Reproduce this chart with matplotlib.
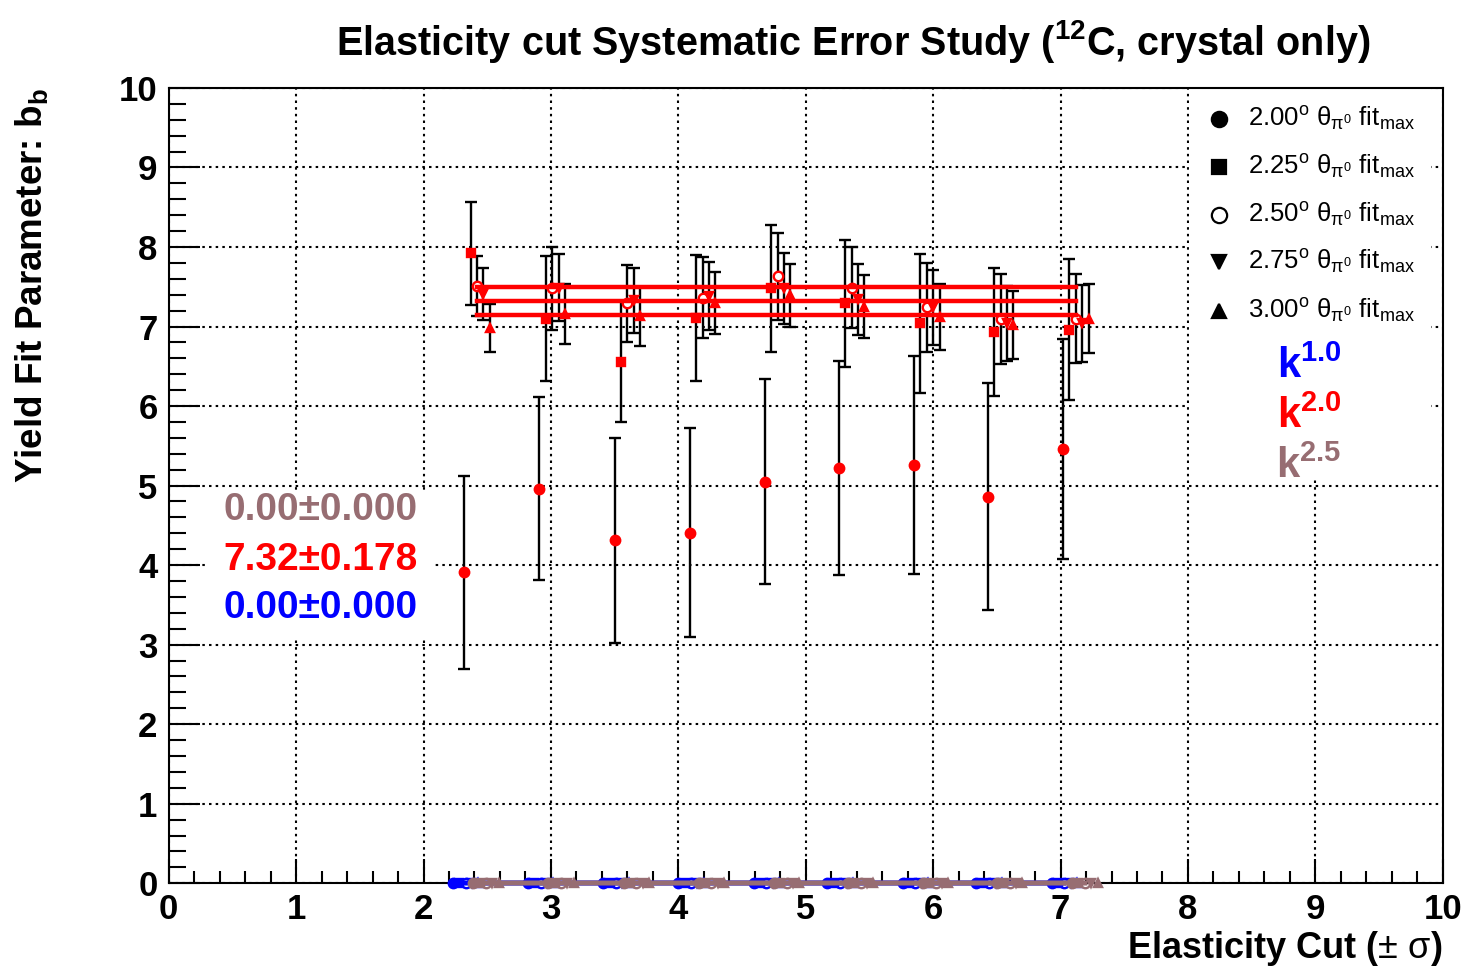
#!/usr/bin/env python3
import matplotlib

matplotlib.use("Agg")
import matplotlib.pyplot as plt  # noqa: E402
from matplotlib.lines import Line2D  # noqa: E402
from matplotlib.patches import Rectangle  # noqa: E402

# elasticity cut values (x) and fitted b_b for each theta_pi0 fit max
cuts = [2.32, 2.91, 3.50, 4.09, 4.68, 5.26, 5.85, 6.43, 7.02]
theta_labels = ["2.00", "2.25", "2.50", "2.75", "3.00"]

b_200 = [3.91, 4.96, 4.31, 4.41, 5.05, 5.22, 5.26, 4.86, 5.46]
e_200 = [1.21, 1.15, 1.29, 1.32, 1.29, 1.35, 1.37, 1.43, 1.38]
b_225 = [7.92, 7.10, 6.56, 7.11, 7.48, 7.29, 7.04, 6.93, 6.96]
e_225 = [0.645, 0.79, 0.76, 0.79, 0.80, 0.80, 0.87, 0.80, 0.885]
b_250 = [7.51, 7.48, 7.29, 7.36, 7.63, 7.49, 7.24, 7.09, 7.10]
e_250 = [0.375, 0.52, 0.48, 0.51, 0.545, 0.515, 0.555, 0.565, 0.565]
b_275 = [7.41, 7.49, 7.33, 7.38, 7.48, 7.34, 7.24, 7.04, 7.04]
e_275 = [0.33, 0.42, 0.41, 0.43, 0.45, 0.445, 0.47, 0.47, 0.485]
b_300 = [6.98, 7.16, 7.13, 7.30, 7.39, 7.25, 7.12, 7.02, 7.10]
e_300 = [0.30, 0.38, 0.37, 0.39, 0.40, 0.40, 0.42, 0.43, 0.43]

# k^1.0 and k^2.5 fits came out empty (all zero)
b_k10 = [0.0] * len(cuts)
b_k25 = [0.0] * len(cuts)

fit_k10 = (0.00, 0.000)
fit_k20 = (7.32, 0.178)
fit_k25 = (0.00, 0.000)

BLUE = "#0000ff"
RED = "#ff0000"
BROWN = "#976d72"
MARKERS = ["o", "s", "o", "v", "^"]
HOLLOW = [False, False, True, False, False]
OFFSETS = [0.0, 0.05, 0.10, 0.15, 0.20]

plt.rcParams["font.family"] = ["Liberation Sans", "DejaVu Sans"]
plt.rcParams["mathtext.fontset"] = "custom"
plt.rcParams["mathtext.rm"] = "Liberation Sans"
plt.rcParams["mathtext.it"] = "Liberation Sans:italic"
plt.rcParams["mathtext.bf"] = "Liberation Sans:bold"

fig = plt.figure(figsize=(14.67, 9.67), dpi=100)
ax = fig.add_axes([0.115, 0.0866, 0.8685, 0.8225])


def draw_series(values, errors, color, shift, with_err, zo, hollow_face):
    for i, (vals, errs) in enumerate(zip(values, errors)):
        x = [c + OFFSETS[i] + shift for c in cuts]
        ax.errorbar(
            x, vals, yerr=errs if with_err else None,
            fmt=MARKERS[i], color=color, ecolor="black",
            elinewidth=1.7, capsize=4.5, capthick=1.7,
            ms=6.8 if MARKERS[i] == "o" else 6.3,
            mfc=hollow_face if HOLLOW[i] else color, mec=color, mew=1.7,
            zorder=zo, clip_on=False,
        )


def draw_fit(fit, color, shift, zo):
    x0 = cuts[0] + OFFSETS[2] + shift
    x1 = cuts[-1] + OFFSETS[2] + shift
    val, err = fit
    for y in (val + err, val, val - err):
        ax.plot([x0, x1], [y, y], color=color, lw=3.2, zorder=zo, clip_on=False)


zeros = [[0.0] * len(cuts)] * 5
draw_series([b_k10] * 5, zeros, BLUE, -0.09, False, 4, "none")
draw_fit(fit_k10, BLUE, -0.09, 4)

draw_series([b_200, b_225, b_250, b_275, b_300],
            [e_200, e_225, e_250, e_275, e_300], RED, 0.0, True, 2, "white")
draw_fit(fit_k20, RED, 0.0, 3)

draw_series([b_k25] * 5, zeros, BROWN, 0.07, False, 5, "none")
draw_fit(fit_k25, BROWN, 0.07, 5)

ax.set_xlim(0, 10)
ax.set_ylim(0, 10)
ax.set_xticks(range(0, 11))
ax.set_yticks(range(0, 11))
ax.set_xticks([i * 0.2 for i in range(51)], minor=True)
ax.set_yticks([i * 0.2 for i in range(51)], minor=True)
ax.tick_params(axis="x", which="major", direction="in", length=17, width=1.5, pad=7, labelsize=25)
ax.tick_params(axis="x", which="minor", direction="in", length=8.5, width=1.5)
ax.tick_params(axis="y", which="major", direction="in", length=22, width=1.5, pad=8, labelsize=25)
ax.tick_params(axis="y", which="minor", direction="in", length=12, width=1.5)
for lab in ax.get_xticklabels() + ax.get_yticklabels():
    lab.set_fontweight("bold")
for sp in ax.spines.values():
    sp.set_linewidth(1.5)

ax.set_axisbelow(True)
ax.grid(True, which="major", color="black", linestyle=(0, (1.2, 2.0)), linewidth=1.5)

# white panes over the grid (legend and fit results)
ax.add_patch(Rectangle((8.01, 5.1), 1.9, 4.9, facecolor="white", edgecolor="none", zorder=1))
ax.add_patch(Rectangle((0.29, 3.1), 1.8, 1.85, facecolor="white", edgecolor="none", zorder=1))

ax.set_title(r"Elasticity cut Systematic Error Study ($^{\mathbf{12}}$C, crystal only)",
             fontsize=28.5, fontweight="bold", pad=24, x=0.537)
ax.set_xlabel(r"Elasticity Cut ($\mathrm{\pm}$ $\mathrm{σ}$)", fontsize=26, fontweight="bold",
              loc="right", labelpad=2)
ax.set_ylabel(r"Yield Fit Parameter: b$_{\mathbf{b}}$", fontsize=26.5, fontweight="bold",
              loc="top", labelpad=50)

# legend
leg_y = [9.61, 9.01, 8.40, 7.81, 7.20]
for i, lab in enumerate(theta_labels):
    ax.add_line(Line2D([8.24], [leg_y[i]], marker=MARKERS[i], color="black",
                       mfc="white" if HOLLOW[i] else "black", mec="black", mew=1.6,
                       ms=11 if MARKERS[i] == "o" else 10.5, zorder=6))
    ax.text(8.47, leg_y[i],
            lab + r"$^{\mathrm{o}}$ $\mathrm{θ}_{\mathrm{π}^{0}}$ fit$_{\mathrm{max}}$",
            fontsize=18.5, va="center", ha="left", zorder=6)

k_y = [6.49, 5.86, 5.23]
for y, lab, col in zip(k_y, ["1.0", "2.0", "2.5"], [BLUE, RED, BROWN]):
    ax.text(8.95, y, r"k$^{\mathbf{" + lab + "}}$", color=col, fontsize=30,
            fontweight="bold", ha="center", va="center", zorder=6)

fit_y = [4.69, 4.07, 3.46]
for y, fit, col in zip(fit_y, [fit_k25, fit_k20, fit_k10], [BROWN, RED, BLUE]):
    ax.text(1.19, y, f"{fit[0]:.2f}±{fit[1]:.3f}", color=col, fontsize=28,
            fontweight="bold", ha="center", va="center", zorder=6)

fig.savefig("out.png", dpi=100)
